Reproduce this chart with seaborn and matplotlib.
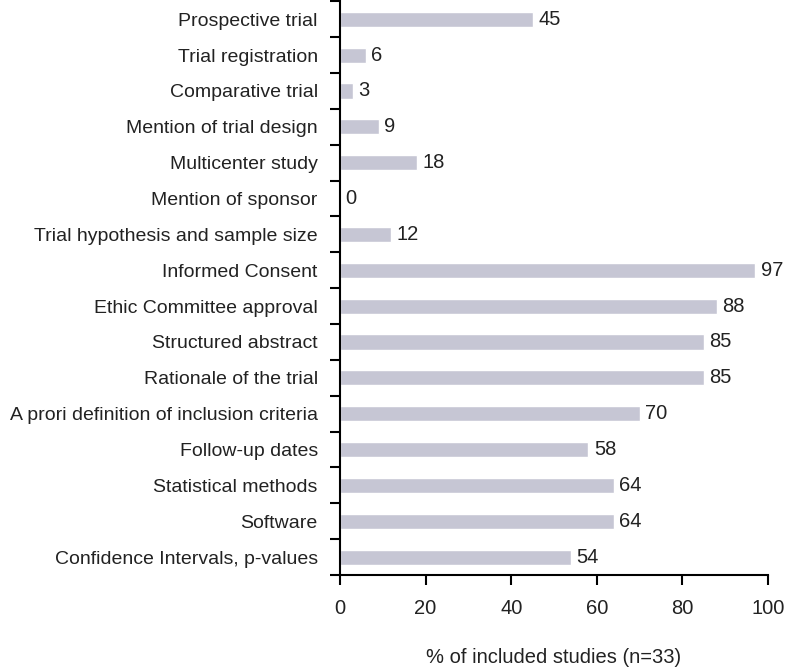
import pandas as pd
import matplotlib.pyplot as plt
import seaborn as sns
from matplotlib.ticker import FixedLocator

# --- Data ---
items = [
    "Prospective trial",
    "Trial registration",
    "Comparative trial",
    "Mention of trial design",
    "Multicenter study",
    "Mention of sponsor",
    "Trial hypothesis and sample size",
    "Informed Consent",
    "Ethic Committee approval",
    "Structured abstract",
    "Rationale of the trial",
    "A prori definition of inclusion criteria",
    "Follow-up dates",
    "Statistical methods",
    "Software",
    "Confidence Intervals, p-values",
]
percent = [45, 6, 3, 9, 18, 0, 12, 97, 88, 85, 85, 70, 58, 64, 64, 54]
x_ticks = [0, 20, 40, 60, 80, 100]

df = pd.DataFrame({"item": items, "percent": percent})

# --- Style ---
sns.set_style("ticks")
plt.rcParams["font.family"] = ["Liberation Sans", "DejaVu Sans"]
plt.rcParams["font.size"] = 14
text_color = "#222222"

fig = plt.figure(figsize=(7.86, 6.71), dpi=100)
ax = fig.add_axes([0.4326, 0.143, 0.5445, 0.855])

sns.barplot(data=df, x="percent", y="item", color="#c6c6d4", saturation=1,
            width=0.42, ax=ax)

ax.bar_label(ax.containers[0], fmt="%d", padding=4, fontsize=14.5, color=text_color)

ax.set_xlim(0, 100)
ax.set_ylim(len(items) - 0.5, -0.5)
ax.set_xticks(x_ticks)

# category ticks sit between bars
ax.yaxis.set_major_locator(FixedLocator([i - 0.5 for i in range(len(items) + 1)]))
ax.yaxis.set_minor_locator(FixedLocator(range(len(items))))
ax.set_yticklabels([])
ax.set_yticklabels(items, minor=True)
ax.tick_params(axis="y", which="minor", length=0, pad=16, labelsize=14, labelcolor=text_color)
ax.tick_params(axis="y", which="major", length=7, width=1.5, color="black")
ax.tick_params(axis="x", length=7, width=1.5, color="black", pad=10,
               labelsize=14.5, labelcolor=text_color)

ax.set_ylabel("")
ax.set_xlabel("% of included studies (n=33)", fontsize=14.5, color=text_color, labelpad=22)

for side in ["top", "right"]:
    ax.spines[side].set_visible(False)
for side in ["left", "bottom"]:
    ax.spines[side].set_linewidth(1.5)
    ax.spines[side].set_color("black")

plt.savefig("out.png", dpi=100)
plt.close()
